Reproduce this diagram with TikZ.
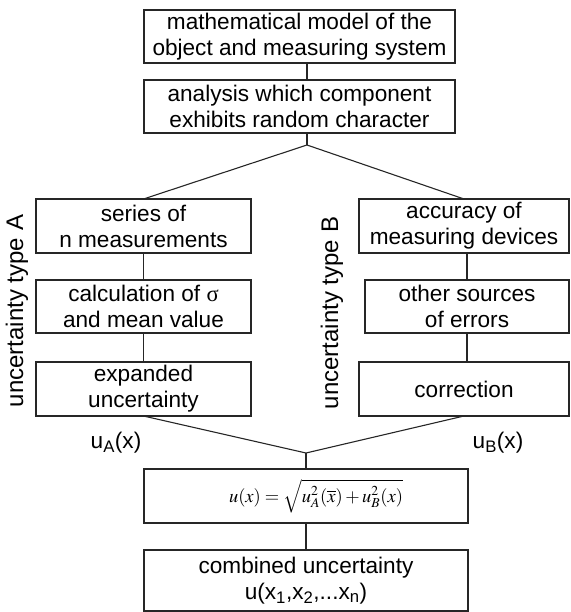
\documentclass[tikz,border=0pt]{standalone}
\usepackage{mathptmx}
\usepackage{fontspec}
\setmainfont{Liberation Sans}
\newfontfamily\serifgreek{Liberation Serif}
\begin{document}
\begin{tikzpicture}[x=1pt,y=-1pt,
  every node/.style={inner sep=0pt,outer sep=0pt,font=\fontsize{22.6}{26}\selectfont},
  box/.style={draw=black!85,line width=1.1pt,align=center},
  conn/.style={draw=black!85,line width=1.1pt},
  side/.style={font=\fontsize{24}{28}\selectfont,rotate=90}]
\useasboundingbox (0,0) rectangle (570,612);
\node[box,minimum width=311pt,minimum height=53pt] (m1) at (299.5,36.5) {mathematical model of the\\object and measuring system};
\node[box,minimum width=311pt,minimum height=53pt] (m2) at (299.5,106.5) {analysis which component\\exhibits random character};
\coordinate (j1) at (307,145);
\node[box,minimum width=215pt,minimum height=54pt] (a1) at (143.5,226) {series of\\n measurements};
\node[box,minimum width=215pt,minimum height=53pt] (a2) at (143.5,306.5) {calculation of {\serifgreek σ}\\and mean value};
\node[box,minimum width=215pt,minimum height=54pt] (a3) at (143.5,389) {expanded\\uncertainty};
\node[box,minimum width=210pt,minimum height=54pt] (b1) at (464,226) {accuracy of\\measuring devices};
\node[box,minimum width=204pt,minimum height=53pt] (b2) at (467,306.5) {other sources\\of errors};
\node[box,minimum width=210pt,minimum height=54pt] (b3) at (464,389) {correction};
\node[side] (la) at (17,311) {uncertainty type A};
\node[side] (lb) at (332,313) {uncertainty type B};
\node (ua) at (116,443) {u\textsubscript{A}(x)};
\node (ub) at (498,443) {u\textsubscript{B}(x)};
\coordinate (j2) at (306,453);
\node[box,minimum width=324pt,minimum height=54pt] (f) at (306,496) {\fontsize{18.5}{22}\selectfont\hspace*{20pt}$u(x)=\sqrt{u_A^2(\overline{x})+u_B^2(x)}$};
\node[box,minimum width=324pt,minimum height=61pt] (c) at (306,580.5) {combined uncertainty\\u(x\textsubscript{1},x\textsubscript{2},...x\textsubscript{n})};
\draw[conn] (m1.south -| j1) -- (m2.north -| j1);
\draw[conn] (m2.south -| j1) -- (j1);
\draw[conn] (a1.north) -- (j1) -- (b1.north);
\draw[conn] (a1) -- (a2);
\draw[conn] (a2) -- (a3);
\draw[conn] (b2.north) -- (b2.north |- b1.south);
\draw[conn] (b2.south) -- (b2.south |- b3.north);
\draw[conn] (a3.south) -- (j2) -- (b3.south);
\draw[conn] (j2) -- (f.north);
\draw[conn] (f) -- (c);
\end{tikzpicture}
\end{document}
